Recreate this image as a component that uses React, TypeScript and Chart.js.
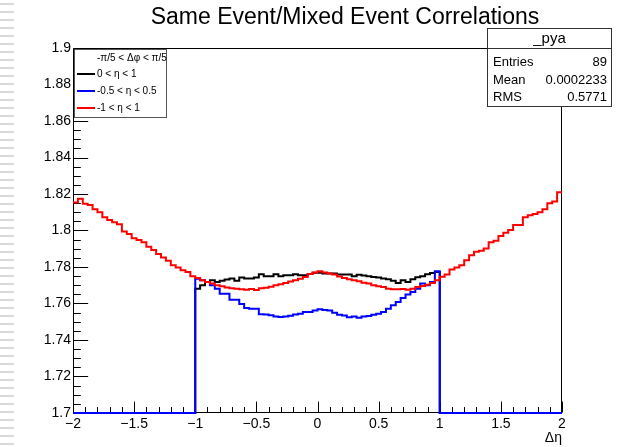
import React, { useEffect, useRef } from 'react';
import { Chart, registerables } from 'chart.js';

Chart.register(...registerables);

// ---- axis ranges / binning ----
const X_MIN = -2;
const X_MAX = 2;
const N_BINS = 100;
const Y_MIN = 1.7;
const Y_MAX = 1.9;
const X_TICK_STEP = 0.5;
const Y_TICK_STEP = 0.02;

// ---- bin contents (100 bins from -2 to 2) ----
const RED_VALUES = [
  1.8153, 1.8174, 1.8146, 1.8140, 1.8117, 1.8100, 1.8073, 1.8058, 1.8045, 1.8034,
  1.7994, 1.7981, 1.7957, 1.7948, 1.7935, 1.7911, 1.7893, 1.7871, 1.7852, 1.7834,
  1.7810, 1.7797, 1.7782, 1.7773, 1.7750,
  1.7740, 1.7727, 1.7718, 1.7710, 1.7700, 1.7695, 1.7688, 1.7683, 1.7681, 1.7678,
  1.7676, 1.7680, 1.7674, 1.7684, 1.7686, 1.7692, 1.7700, 1.7705, 1.7712, 1.7720,
  1.7727, 1.7736, 1.7745, 1.7762, 1.7770,
  1.7777, 1.7770, 1.7765, 1.7759, 1.7748, 1.7740, 1.7733, 1.7728, 1.7722, 1.7714,
  1.7709, 1.7700, 1.7695, 1.7690, 1.7681, 1.7678, 1.7678, 1.7680, 1.7676, 1.7681,
  1.7690, 1.7696, 1.7703, 1.7712, 1.7728,
  1.7746, 1.7759, 1.7786, 1.7797, 1.7810, 1.7837, 1.7865, 1.7883, 1.7889, 1.7902,
  1.7935, 1.7944, 1.7970, 1.7988, 1.8003, 1.8030, 1.8030, 1.8073, 1.8083, 1.8091,
  1.8100, 1.8117, 1.8150, 1.8159, 1.8210,
];

const BLACK_VALUES = [
  0, 0, 0, 0, 0, 0, 0, 0, 0, 0, 0, 0, 0, 0, 0, 0, 0, 0, 0, 0, 0, 0, 0, 0, 0,
  1.7681, 1.7700, 1.7718, 1.7727, 1.7718, 1.7724, 1.7731, 1.7737, 1.7724, 1.7742,
  1.7737, 1.7737, 1.7742, 1.7760, 1.7749, 1.7749, 1.7760, 1.7749, 1.7755, 1.7755,
  1.7760, 1.7755, 1.7755, 1.7762, 1.7768,
  1.7768, 1.7764, 1.7764, 1.7764, 1.7759, 1.7759, 1.7759, 1.7749, 1.7757, 1.7753,
  1.7749, 1.7745, 1.7742, 1.7737, 1.7733, 1.7724, 1.7712, 1.7727, 1.7718, 1.7733,
  1.7744, 1.7749, 1.7760, 1.7767, 1.7772,
  0, 0, 0, 0, 0, 0, 0, 0, 0, 0, 0, 0, 0, 0, 0, 0, 0, 0, 0, 0, 0, 0, 0, 0, 0,
];

const BLUE_VALUES = [
  0, 0, 0, 0, 0, 0, 0, 0, 0, 0, 0, 0, 0, 0, 0, 0, 0, 0, 0, 0, 0, 0, 0, 0, 0,
  1.7736, 1.7727, 1.7718, 1.7700, 1.7681, 1.7654, 1.7654, 1.7621, 1.7621, 1.7597,
  1.7575, 1.7571, 1.7571, 1.7541, 1.7540, 1.7536, 1.7529, 1.7526, 1.7529, 1.7533,
  1.7540, 1.7544, 1.7553, 1.7553, 1.7562,
  1.7568, 1.7565, 1.7562, 1.7549, 1.7538, 1.7534, 1.7525, 1.7529, 1.7522, 1.7529,
  1.7531, 1.7538, 1.7544, 1.7553, 1.7571, 1.7590, 1.7608, 1.7630, 1.7649, 1.7663,
  1.7681, 1.7709, 1.7700, 1.7718, 1.7777,
  0, 0, 0, 0, 0, 0, 0, 0, 0, 0, 0, 0, 0, 0, 0, 0, 0, 0, 0, 0, 0, 0, 0, 0, 0,
];

// ---- texts ----
const TITLE = 'Same Event/Mixed Event Correlations';
const X_TITLE = 'Δη';
const LEGEND_HEADER = '-π/5 < Δφ < π/5';
const SERIES_LABELS = ['0 < η < 1', '-0.5 < η < 0.5', '-1 < η < 1'];
const SERIES_COLORS = ['#000000', '#0000ff', '#ff0000'];
const STATS_NAME = '_pya';
const STATS_LABELS = ['Entries', 'Mean', 'RMS'];
const STATS_VALUES = ['89', '0.0002233', '0.5771'];

const FONT = '"Liberation Sans", Arial, Helvetica, sans-serif';

function toPoints(values: number[]) {
  const w = (X_MAX - X_MIN) / N_BINS;
  const pts = values.map((v, i) => ({ x: X_MIN + i * w, y: Math.max(v, Y_MIN) }));
  pts.push({ x: X_MAX, y: Math.max(values[values.length - 1], Y_MIN) });
  return pts;
}

const rootDecor = {
  id: 'rootDecor',
  beforeDraw(chart: any) {
    const ctx = chart.ctx;
    ctx.save();
    ctx.fillStyle = '#ffffff';
    ctx.fillRect(0, 0, chart.width, chart.height);
    // faint dashes on the left edge
    ctx.fillStyle = '#d9d9d9';
    for (let y = 3; y < chart.height; y += 8) {
      ctx.fillRect(0, y, 14, 2);
    }
    ctx.restore();
  },
  beforeDatasetsDraw(chart: any) {
    const ctx = chart.ctx;
    const { left, right, top, bottom } = chart.chartArea;
    const xs = chart.scales.x;
    const ys = chart.scales.y;
    ctx.save();
    ctx.strokeStyle = '#000';
    ctx.lineWidth = 1;
    const L = Math.round(left) + 0.5;
    const R = Math.round(right) - 0.5;
    const T = Math.round(top) + 0.5;
    const B = Math.round(bottom) - 0.5;
    ctx.beginPath();
    ctx.rect(L, T, R - L, B - T);
    ctx.stroke();
    // y ticks (inside)
    const yLen = 0.03 * (right - left);
    ctx.beginPath();
    for (let k = 0; k <= 40; k++) {
      const v = Y_MIN + k * 0.005;
      const py = Math.round(ys.getPixelForValue(v)) + 0.5;
      const len = k % 4 === 0 ? yLen : yLen / 2;
      ctx.moveTo(L, py);
      ctx.lineTo(L + len, py);
    }
    // x ticks (inside)
    const xLen = 0.03 * (bottom - top);
    for (let k = 0; k <= 40; k++) {
      const v = X_MIN + k * 0.1;
      const px = Math.round(xs.getPixelForValue(v)) + 0.5;
      const len = k % 5 === 0 ? xLen : xLen / 2;
      ctx.moveTo(px, B);
      ctx.lineTo(px, B - len);
    }
    ctx.stroke();
    ctx.restore();
  },
  afterDraw(chart: any) {
    const ctx = chart.ctx;
    ctx.save();
    // title
    ctx.fillStyle = '#000';
    ctx.font = `23px ${FONT}`;
    ctx.textAlign = 'center';
    ctx.textBaseline = 'middle';
    ctx.fillText(TITLE, 345, 18);

    // legend box
    const lx = 74.5, ly = 49.5, lw = 92, lh = 68;
    ctx.fillStyle = '#fff';
    ctx.fillRect(lx, ly, lw, lh);
    ctx.strokeStyle = '#555';
    ctx.lineWidth = 1;
    ctx.strokeRect(lx, ly, lw, lh);
    ctx.fillStyle = '#000';
    ctx.font = `10px ${FONT}`;
    ctx.textAlign = 'left';
    ctx.textBaseline = 'middle';
    ctx.fillText(LEGEND_HEADER, 97, 58);
    const rowsY = [74, 91, 108];
    SERIES_LABELS.forEach((lab, i) => {
      ctx.strokeStyle = SERIES_COLORS[i];
      ctx.lineWidth = 2;
      ctx.beginPath();
      ctx.moveTo(77, rowsY[i]);
      ctx.lineTo(95, rowsY[i]);
      ctx.stroke();
      ctx.fillStyle = '#000';
      ctx.fillText(lab, 97, rowsY[i] + 0.5);
    });

    // stats box
    const sx = 487.5, sy = 28.5, sw = 124, sh = 78;
    ctx.fillStyle = '#fff';
    ctx.fillRect(sx, sy, sw, sh);
    ctx.strokeStyle = '#333';
    ctx.lineWidth = 1;
    ctx.strokeRect(sx, sy, sw, sh);
    ctx.beginPath();
    ctx.moveTo(sx, 48.5);
    ctx.lineTo(sx + sw, 48.5);
    ctx.stroke();
    ctx.fillStyle = '#000';
    ctx.font = `15px ${FONT}`;
    ctx.textAlign = 'center';
    ctx.fillText(STATS_NAME, sx + sw / 2, 39);
    ctx.font = `13px ${FONT}`;
    const sRows = [62, 80, 97];
    STATS_LABELS.forEach((lab, i) => {
      ctx.textAlign = 'left';
      ctx.fillText(lab, sx + 5.5, sRows[i]);
      ctx.textAlign = 'right';
      ctx.fillText(STATS_VALUES[i], sx + sw - 4.5, sRows[i]);
    });
    ctx.restore();
  },
};

export default function App() {
  const canvasRef = useRef<HTMLCanvasElement | null>(null);

  useEffect(() => {
    const canvas = canvasRef.current;
    if (!canvas) return;
    const mk = (label: string, values: number[], color: string, order: number) => ({
      label,
      data: toPoints(values),
      borderColor: color,
      backgroundColor: color,
      borderWidth: 2,
      pointRadius: 0,
      stepped: true,
      fill: false,
      tension: 0,
      order,
      clip: 4,
    });
    const chart = new Chart(canvas, {
      type: 'line',
      data: {
        datasets: [
          mk(SERIES_LABELS[2], RED_VALUES, SERIES_COLORS[2], 0),
          mk(SERIES_LABELS[1], BLUE_VALUES, SERIES_COLORS[1], 1),
          mk(SERIES_LABELS[0], BLACK_VALUES, SERIES_COLORS[0], 2),
        ],
      },
      options: {
        responsive: false,
        animation: false,
        devicePixelRatio: 1,
        layout: { padding: { left: 0, top: 48, right: 57, bottom: 0 } },
        plugins: {
          legend: { display: false },
          title: { display: false },
          tooltip: { enabled: false },
        },
        scales: {
          x: {
            type: 'linear',
            min: X_MIN,
            max: X_MAX,
            grid: { display: false, drawTicks: false },
            border: { display: false },
            ticks: {
              stepSize: X_TICK_STEP,
              color: '#000',
              padding: 3,
              maxRotation: 0,
              font: { family: FONT, size: 14 },
              callback: (v: any) => {
                const n = Number(v);
                const s = String(Math.round(Math.abs(n) * 100) / 100);
                return n < 0 ? '\u2212' + s : s;
              },
            },
            title: {
              display: true,
              text: X_TITLE,
              align: 'end',
              color: '#000',
              padding: 0,
              font: { family: FONT, size: 14 },
            },
            afterFit: (s: any) => {
              s.height = 34;
            },
          },
          y: {
            type: 'linear',
            min: Y_MIN,
            max: Y_MAX,
            grid: { display: false, drawTicks: false },
            border: { display: false },
            ticks: {
              stepSize: Y_TICK_STEP,
              color: '#000',
              padding: 2,
              font: { family: FONT, size: 14 },
              callback: (v: any) => String(Number(Number(v).toFixed(2))),
            },
            afterFit: (s: any) => {
              s.width = 73;
            },
          },
        },
      },
      plugins: [rootDecor],
    } as any);
    return () => chart.destroy();
  }, []);

  return (
    <div style={{ position: 'absolute', left: 0, top: 0, width: 619, height: 447, background: '#fff' }}>
      <canvas ref={canvasRef} width={619} height={447} style={{ display: 'block' }} />
    </div>
  );
}
